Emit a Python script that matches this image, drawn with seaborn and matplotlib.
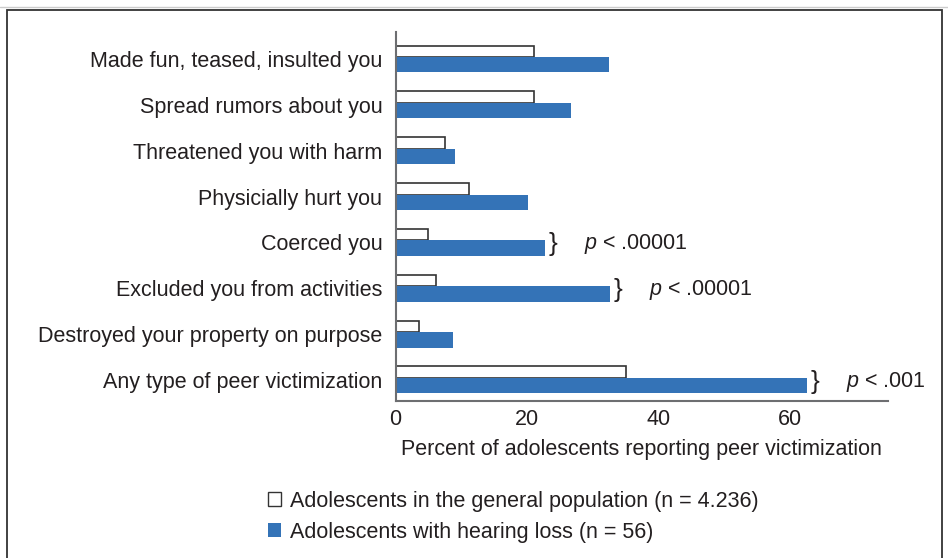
import numpy as np
import matplotlib.pyplot as plt
import seaborn as sns
from matplotlib.patches import Patch, Rectangle
from matplotlib.lines import Line2D

categories = ['Made fun, teased, insulted you',
              'Spread rumors about you',
              'Threatened you with harm',
              'Physicially hurt you',
              'Coerced you',
              'Excluded you from activities',
              'Destroyed your property on purpose',
              'Any type of peer victimization']
general_pct = [21.1, 21.1, 7.5, 11.2, 4.9, 6.2, 3.6, 35.0]
hearing_pct = [32.4, 26.6, 9.0, 20.1, 22.7, 32.6, 8.8, 62.5]
series_labels = ['Adolescents in the general population (n = 4.236)',
                 'Adolescents with hearing loss (n = 56)']
pvalue_rows = [4, 5, 7]
pvalue_texts = ['.00001', '.00001', '.001']
x_ticks = [0, 20, 40, 60]

BLUE = '#3473b7'
TXT = '#231f20'

sns.set_style('white')
plt.rcParams['font.family'] = ['Liberation Sans', 'DejaVu Sans']
plt.rcParams['mathtext.fontset'] = 'custom'
plt.rcParams['mathtext.rm'] = 'Liberation Sans'
plt.rcParams['mathtext.it'] = 'Liberation Sans:italic'

fig = plt.figure(figsize=(9.48, 5.58), dpi=100)
ax = fig.add_axes([395.5 / 948, 1 - 401 / 558, (888 - 395.5) / 948, (401 - 32) / 558])

pos = np.arange(len(categories))
# white bar sits a bit above the centre, blue one (thicker) below
sns.barplot(x=general_pct, y=pos - 0.168, orient='h', native_scale=True,
            width=0.253, color='white', saturation=1, edgecolor='#333333',
            linewidth=1.2, errorbar=None, ax=ax)
sns.barplot(x=hearing_pct, y=pos + 0.126, orient='h', native_scale=True,
            width=0.335, color=BLUE, saturation=1, linewidth=0,
            errorbar=None, ax=ax)

ax.set_xlim(0, 74.85)
ax.set_ylim(len(categories) - 1 + 0.46, -0.59)
ax.set_yticks(pos)
ax.set_yticklabels(categories)
ax.set_xticks(x_ticks)
ax.set_xticklabels([str(t) for t in x_ticks])
ax.set_xlabel('Percent of adolescents reporting peer victimization',
              fontsize=15.5, color=TXT, labelpad=6.5)
ax.set_ylabel('')
ax.tick_params(axis='both', length=0, labelsize=15.5, labelcolor=TXT)
ax.tick_params(axis='y', pad=9.5)
ax.tick_params(axis='x', pad=5.5)
sns.despine(ax=ax)
for s in ['left', 'bottom']:
    ax.spines[s].set_color('#6d6e71')
    ax.spines[s].set_linewidth(1.5)

for r, txt in zip(pvalue_rows, pvalue_texts):
    v = hearing_pct[r]
    ax.annotate('}', xy=(v, r), xytext=(5.6, -1.5), textcoords='offset points',
                ha='center', va='center', fontsize=19, color=TXT)
    ax.annotate(r'$\it{p}$ < ' + txt, xy=(v, r), xytext=(28, -1.5),
                textcoords='offset points', ha='left', va='center',
                fontsize=15.5, color=TXT)

handles = [Patch(facecolor='white', edgecolor='#333333', linewidth=1),
           Patch(facecolor=BLUE, edgecolor=BLUE, linewidth=0)]
leg = fig.legend(handles, series_labels, loc='upper left',
                 bbox_to_anchor=(268 / 948, 1 - 491 / 558), frameon=False,
                 fontsize=15.5, handlelength=0.62, handleheight=0.62,
                 handletextpad=0.4, labelspacing=0.45, borderpad=0,
                 borderaxespad=0)
for t in leg.get_texts():
    t.set_color(TXT)

# page frame
fig.add_artist(Rectangle((7 / 948, -0.1), (942 - 7) / 948, 0.1 + 1 - 10 / 558,
                         transform=fig.transFigure, fill=False,
                         edgecolor='#333333', linewidth=1.3, clip_on=False))
fig.add_artist(Line2D([0, 1], [1 - 7 / 558] * 2, transform=fig.transFigure,
                      color='#cccccc', linewidth=1))

fig.savefig('out.png', dpi=100)
